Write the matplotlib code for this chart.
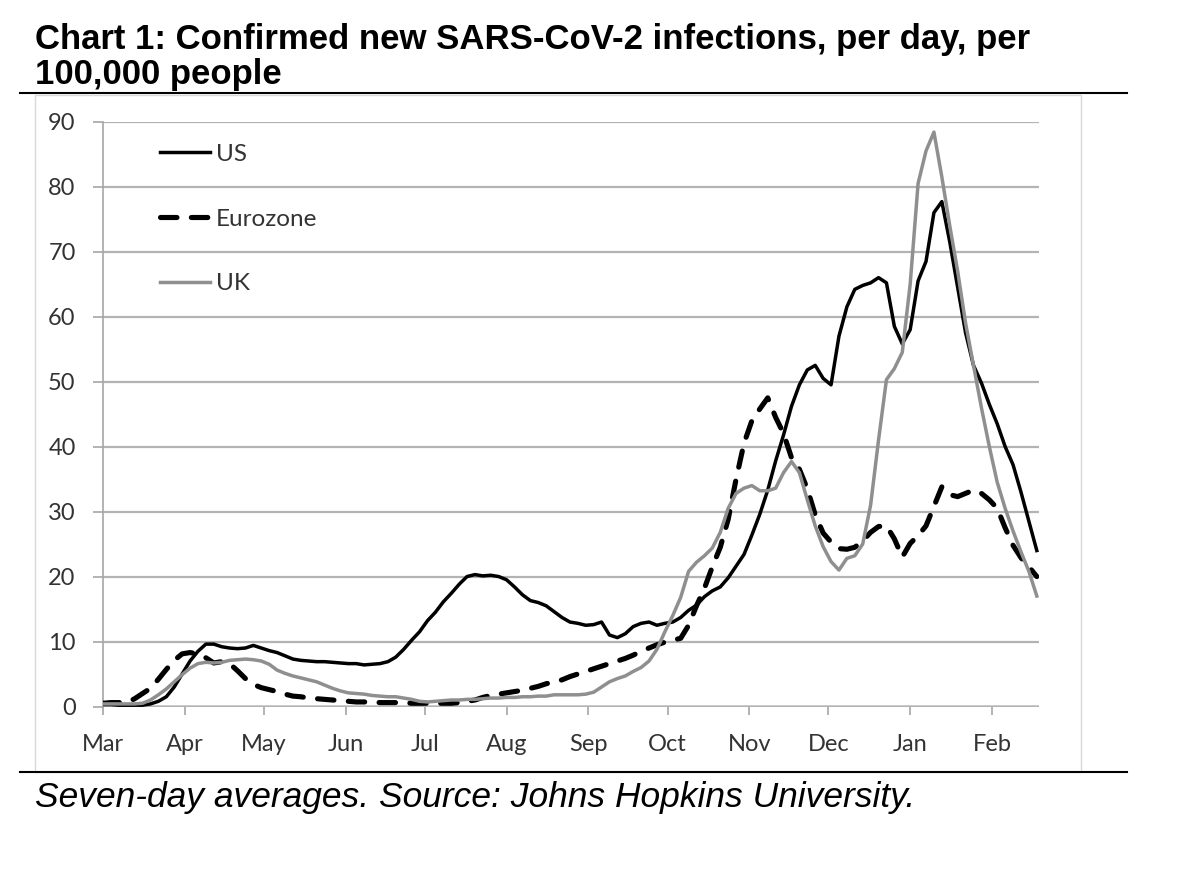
import pandas as pd
import matplotlib
matplotlib.use('Agg')
import matplotlib.pyplot as plt
from matplotlib.lines import Line2D
from matplotlib.patches import Rectangle

# seven-day averages, every 3 days from 1 Mar 2020
dates = pd.date_range('2020-03-01', '2021-02-18', freq='3D')

us = [0.3, 0.3, 0.2, 0.2, 0.2, 0.2, 0.4, 0.8, 1.5, 3.0,
      5.0, 7.0, 8.5, 9.6, 9.6, 9.2, 9.0, 8.9, 9.0, 9.4,
      9.0, 8.6, 8.3, 7.8, 7.3, 7.1, 7.0, 6.9, 6.9, 6.8,
      6.7, 6.6, 6.6, 6.4, 6.5, 6.6, 6.9, 7.6, 8.8, 10.2,
      11.5, 13.2, 14.5, 16.1, 17.4, 18.8, 20.0, 20.3, 20.1, 20.2,
      20.0, 19.5, 18.4, 17.2, 16.3, 16.0, 15.5, 14.6, 13.7, 13.0,
      12.8, 12.5, 12.6, 13.0, 11.0, 10.6, 11.2, 12.3, 12.8, 13.0,
      12.5, 12.8, 13.0, 13.7, 14.8, 15.6, 16.9, 17.8, 18.4, 19.8,
      21.6, 23.4, 26.4, 29.6, 33.3, 37.8, 41.8, 46.2, 49.5, 51.8,
      52.5, 50.5, 49.5, 57.0, 61.5, 64.2, 64.8, 65.2, 66.0, 65.2,
      58.5, 55.8, 58.0, 65.5, 68.5, 76.0, 77.7, 71.5, 64.5, 57.5,
      52.5, 49.8, 46.5, 43.5, 40.0, 37.2, 33.0, 28.5, 24.0]

eurozone = [0.5, 0.6, 0.6, 0.6, 1.2, 2.0, 2.8, 4.2, 5.7, 7.1,
            8.1, 8.3, 8.1, 7.5, 6.7, 6.9, 6.6, 5.5, 4.3, 3.4,
            2.9, 2.6, 2.3, 1.9, 1.6, 1.5, 1.3, 1.2, 1.1, 1.0,
            0.9, 0.8, 0.7, 0.7, 0.7, 0.6, 0.6, 0.6, 0.6, 0.5,
            0.5, 0.5, 0.5, 0.5, 0.5, 0.6, 0.8, 1.0, 1.4, 1.7,
            1.9, 2.1, 2.3, 2.5, 2.8, 3.1, 3.5, 3.8, 4.1, 4.6,
            5.0, 5.4, 5.8, 6.2, 6.6, 7.0, 7.4, 7.9, 8.5, 9.0,
            9.5, 9.9, 10.2, 10.5, 12.5, 15.5, 18.2, 21.5, 24.5, 28.8,
            35.0, 40.5, 44.0, 45.8, 47.5, 44.5, 42.0, 38.3, 36.5, 33.5,
            29.5, 26.7, 25.3, 24.3, 24.2, 24.5, 25.5, 26.8, 27.7, 27.8,
            25.8, 23.0, 25.1, 26.3, 27.8, 30.8, 33.8, 32.6, 32.3, 32.8,
            33.3, 32.8, 31.8, 30.5, 27.5, 24.8, 22.9, 21.5, 20.0]

uk = [0.4, 0.4, 0.4, 0.4, 0.4, 0.5, 1.0, 1.8, 2.7, 3.8,
      4.9, 5.9, 6.6, 6.8, 6.7, 6.8, 7.1, 7.2, 7.3, 7.2,
      7.0, 6.5, 5.6, 5.1, 4.7, 4.4, 4.1, 3.8, 3.3, 2.8,
      2.4, 2.1, 2.0, 1.9, 1.7, 1.6, 1.5, 1.5, 1.3, 1.1,
      0.8, 0.7, 0.8, 0.9, 1.0, 1.0, 1.1, 1.1, 1.2, 1.3,
      1.3, 1.4, 1.4, 1.5, 1.5, 1.6, 1.6, 1.8, 1.8, 1.8,
      1.8, 1.9, 2.2, 3.0, 3.8, 4.3, 4.7, 5.4, 6.0, 7.0,
      8.8, 11.5, 14.0, 16.8, 20.8, 22.2, 23.2, 24.4, 26.8, 30.5,
      32.8, 33.6, 34.0, 33.2, 33.2, 33.6, 36.0, 37.7, 36.0, 31.8,
      27.8, 24.6, 22.3, 21.0, 22.8, 23.2, 25.0, 31.0, 41.0, 50.3,
      52.0, 54.5, 65.0, 80.5, 85.5, 88.4, 81.5, 74.0, 67.0, 59.0,
      52.5, 46.0, 40.0, 34.5, 30.5, 27.0, 23.8, 20.8, 17.0]

months = pd.date_range('2020-03-01', '2021-02-01', freq='MS')
month_labels = ['Mar', 'Apr', 'May', 'Jun', 'Jul', 'Aug', 'Sep', 'Oct',
                'Nov', 'Dec', 'Jan', 'Feb']

W, H = 1190, 892
fig = plt.figure(figsize=(W / 100, H / 100), dpi=100)

ax = fig.add_axes([103 / W, 1 - 706.5 / H, 936 / W, 584.8 / H])

ax.plot(dates, us, color='black', lw=2.5, label='US', zorder=3)
ax.plot(dates, eurozone, color='black', lw=3.7, dashes=(3.2, 2.8),
        dash_capstyle='round', label='Eurozone', zorder=4)
ax.plot(dates, uk, color='#8f8f8f', lw=2.5, label='UK', zorder=5)

ax.set_ylim(0, 90)
ax.set_yticks(range(0, 91, 10))
ax.set_xlim(pd.Timestamp('2020-03-01'), pd.Timestamp('2021-02-18 20:00'))
ax.set_xticks(months)
ax.set_xticklabels(month_labels)

ax.yaxis.grid(True, color='#b3b3b3', lw=1.6, zorder=0)
ax.axhline(0, color='#c4c4c4', lw=2.6, zorder=1.5)
for side in ['top', 'right', 'bottom']:
    ax.spines[side].set_visible(False)
ax.spines['left'].set_color('#a6a6a6')
ax.spines['left'].set_linewidth(1.2)

ax.tick_params(axis='y', length=7.2, width=1.2, color='#a6a6a6', pad=12.5,
               labelcolor='#333333')
ax.tick_params(axis='x', length=6, width=1.2, color='#a6a6a6', pad=14,
               labelcolor='#333333')
for lab in ax.get_xticklabels() + ax.get_yticklabels():
    lab.set_fontfamily('Lato')
    lab.set_fontsize(17)

leg = ax.legend(loc='upper left', bbox_to_anchor=(0.061, 0.962), frameon=False,
                prop=dict(family='Lato', size=17.5), handlelength=2.06,
                handletextpad=0.25, labelspacing=1.8, borderpad=0,
                borderaxespad=0)
for t in leg.get_texts():
    t.set_color('#333333')

# title, rules, border and footer
fig.text(35 / W, 1 - 23 / H,
         'Chart 1: Confirmed new SARS-CoV-2 infections, per day, per\n100,000 people',
         ha='left', va='top', fontsize=25, fontweight='bold',
         family='Liberation Sans', linespacing=1.08)
fig.add_artist(Line2D([20 / W, 1127 / W], [1 - 93 / H] * 2, color='black', lw=1.5))
fig.add_artist(Line2D([20 / W, 1127 / W], [1 - 772 / H] * 2, color='black', lw=1.5))
fig.add_artist(Rectangle((35 / W, 1 - 772 / H), (1081 - 35) / W, (772 - 95) / H,
                         fill=False, ec='#d9d9d9', lw=1, transform=fig.transFigure))
fig.text(35 / W, 1 - 797 / H,
         'Seven-day averages. Source: Johns Hopkins University.',
         ha='left', va='center', fontsize=25.5, style='italic',
         family='Liberation Sans')

fig.savefig('out.png', dpi=100)
